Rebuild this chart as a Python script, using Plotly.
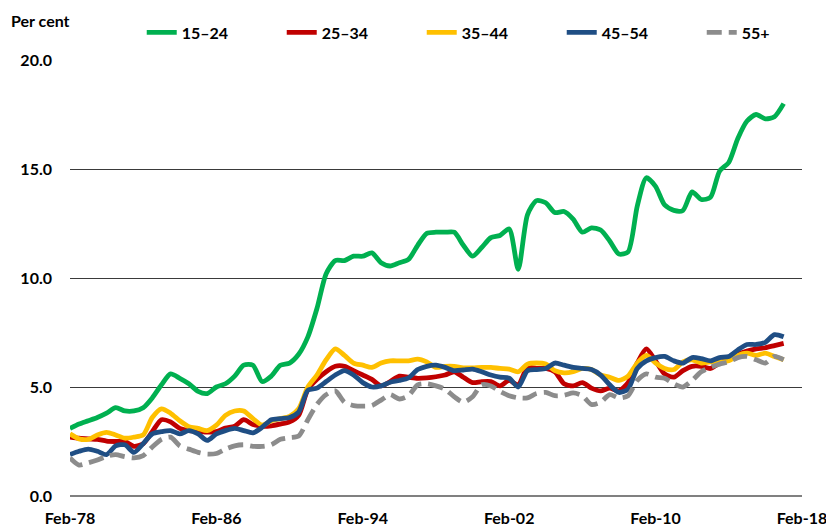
import pandas as pd
import plotly.graph_objects as go

# Semi-annual observations, Feb-78 to Feb-17
dates = pd.date_range("1978-02-01", periods=79, freq="6MS")

age_15_24 = [3.1, 3.3, 3.45, 3.6, 3.8, 4.05, 3.9, 3.9, 4.05, 4.5,
             5.1, 5.6, 5.4, 5.15, 4.8, 4.7, 5.0, 5.15, 5.5, 6.0,
             6.0, 5.25, 5.5, 6.0, 6.1, 6.5, 7.3, 8.6, 10.2, 10.8,
             10.8, 11.0, 11.0, 11.15, 10.7, 10.55, 10.7, 10.85, 11.5, 12.05,
             12.1, 12.1, 12.1, 11.5, 11.0, 11.4, 11.85, 11.95, 12.25, 10.4,
             12.9, 13.55, 13.45, 13.0, 13.05, 12.7, 12.1, 12.3, 12.2, 11.7,
             11.1, 11.2, 13.3, 14.6, 14.2, 13.35, 13.1, 13.1, 13.95, 13.6,
             13.7, 14.9, 15.3, 16.4, 17.2, 17.5, 17.3, 17.4, 18.0]

age_25_34 = [2.7, 2.65, 2.62, 2.6, 2.52, 2.5, 2.5, 2.28, 2.4, 2.95,
             3.5, 3.4, 3.1, 3.0, 2.98, 2.93, 2.95, 3.12, 3.2, 3.5,
             3.28, 3.2, 3.22, 3.3, 3.4, 3.7, 4.9, 5.35, 5.7, 5.95,
             5.95, 5.75, 5.55, 5.35, 5.05, 5.25, 5.5, 5.45, 5.4, 5.42,
             5.47, 5.55, 5.7, 5.45, 5.2, 5.25, 5.25, 5.05, 5.3, 5.1,
             5.9, 5.85, 5.85, 5.7, 5.15, 5.05, 5.2, 4.95, 4.82, 4.95,
             4.82, 5.2, 6.1, 6.75, 6.2, 5.6, 5.45, 5.75, 5.95, 5.95,
             5.85, 6.1, 6.3, 6.5, 6.65, 6.75, 6.8, 6.9, 7.0]

age_35_44 = [2.85, 2.62, 2.6, 2.8, 2.92, 2.8, 2.65, 2.7, 2.8, 3.6,
             4.0, 3.8, 3.45, 3.18, 3.1, 3.0, 3.25, 3.7, 3.9, 3.9,
             3.55, 3.25, 3.45, 3.55, 3.65, 4.0, 5.0, 5.55, 6.25, 6.75,
             6.45, 6.1, 6.0, 5.9, 6.1, 6.2, 6.2, 6.2, 6.28, 6.15,
             5.9, 5.95, 5.95, 5.88, 5.88, 5.9, 5.9, 5.85, 5.82, 5.7,
             6.05, 6.1, 6.05, 5.75, 5.65, 5.7, 5.85, 5.8, 5.55, 5.45,
             5.3, 5.5, 6.1, 6.45, 6.1, 5.85, 5.8, 6.15, 6.25, 6.1,
             6.15, 6.15, 6.2, 6.45, 6.55, 6.45, 6.55, 6.4, 6.25]

age_45_54 = [1.9, 2.05, 2.15, 2.05, 1.9, 2.3, 2.35, 2.0, 2.4, 2.85,
             2.95, 3.0, 2.85, 3.0, 2.85, 2.55, 2.85, 3.0, 3.1, 3.0,
             2.9, 3.15, 3.5, 3.55, 3.6, 3.85, 4.85, 4.95, 5.25, 5.55,
             5.75, 5.55, 5.2, 5.0, 5.05, 5.22, 5.3, 5.42, 5.8, 5.95,
             6.0, 5.9, 5.75, 5.78, 5.82, 5.7, 5.55, 5.45, 5.4, 5.0,
             5.75, 5.8, 5.85, 6.1, 6.0, 5.9, 5.85, 5.8, 5.55, 5.1,
             4.75, 4.9, 5.85, 6.2, 6.35, 6.4, 6.2, 6.1, 6.35, 6.3,
             6.2, 6.35, 6.4, 6.7, 6.95, 6.95, 7.05, 7.4, 7.3]

age_55_plus = [1.75, 1.42, 1.52, 1.65, 1.82, 1.9, 1.8, 1.75, 1.85, 2.25,
               2.6, 2.7, 2.3, 2.15, 2.0, 1.92, 1.95, 2.15, 2.3, 2.35,
               2.28, 2.28, 2.35, 2.6, 2.68, 2.75, 3.5, 4.2, 4.65, 4.82,
               4.3, 4.15, 4.12, 4.15, 4.4, 4.65, 4.45, 4.6, 5.1, 5.15,
               5.05, 4.9, 4.55, 4.3, 4.55, 5.1, 5.05, 4.8, 4.6, 4.5,
               4.5, 4.7, 4.75, 4.6, 4.62, 4.73, 4.6, 4.2, 4.3, 4.65,
               4.5, 4.6, 5.3, 5.6, 5.45, 5.4, 5.15, 5.0, 5.3, 5.7,
               5.9, 6.05, 6.15, 6.35, 6.4, 6.25, 6.1, 6.4, 6.25]

series_names = ["15\u201324", "25\u201334", "35\u201344", "45\u201354", "55+"]
series_values = [age_15_24, age_25_34, age_35_44, age_45_54, age_55_plus]
series_colors = ["#00B050", "#C00000", "#FFC000", "#1F4E84", "#8C8C8C"]
series_dash = ["solid", "solid", "solid", "solid", "15px,7px"]

x_tick_labels = ["Feb-78", "Feb-86", "Feb-94", "Feb-02", "Feb-10", "Feb-18"]
x_tick_dates = pd.to_datetime(["1978-02-01", "1986-02-01", "1994-02-01",
                               "2002-02-01", "2010-02-01", "2018-02-01"])
y_ticks = [0, 5, 10, 15, 20]

FONT = "Lato"

fig = go.Figure()
for name, vals, col, dash in zip(series_names, series_values, series_colors, series_dash):
    fig.add_trace(go.Scatter(
        x=dates, y=vals, name=name, mode="lines",
        line=dict(color=col, width=4.8, dash=dash, shape="spline", smoothing=0.7),
    ))

fig.update_layout(
    width=826, height=532,
    margin=dict(l=70, r=24, t=60, b=36, autoexpand=False),
    paper_bgcolor="white", plot_bgcolor="white",
    font=dict(family=FONT, size=16, color="black", weight="bold"),
    showlegend=True,
    legend=dict(
        orientation="h", x=0.098, y=1.024, xanchor="left", yanchor="bottom",
        entrywidth=95, entrywidthmode="pixels",
        font=dict(family=FONT, size=16, weight="bold"),
        bgcolor="rgba(0,0,0,0)", traceorder="normal",
    ),
    xaxis=dict(
        type="date",
        range=["1978-02-01", "2018-02-02"],
        tickmode="array", tickvals=x_tick_dates, ticktext=x_tick_labels,
        showgrid=False, zeroline=False, showline=False,
        ticks="", ticklabelstandoff=11, ticklabeloverflow="allow",
        tickfont=dict(family=FONT, size=16, weight="bold"),
        fixedrange=True,
    ),
    yaxis=dict(
        range=[0, 20], tickvals=y_ticks, tickformat=".1f",
        showgrid=True, gridcolor="#3a3a3a", gridwidth=1,
        zeroline=True, zerolinecolor="#808080", zerolinewidth=1.5,
        showline=False, ticks="", ticklabelstandoff=17,
        tickfont=dict(family=FONT, size=16, weight="bold"),
        fixedrange=True,
    ),
    annotations=[dict(
        text="Per cent", xref="paper", yref="paper", x=-0.084, y=1.09,
        xanchor="left", yanchor="middle", showarrow=False,
        font=dict(family=FONT, size=16, weight="bold"),
    )],
)

fig.write_html(
    "out.html",
    config={"displayModeBar": False},
    post_script="document.body.style.margin='0';document.body.style.overflow='hidden';",
)
